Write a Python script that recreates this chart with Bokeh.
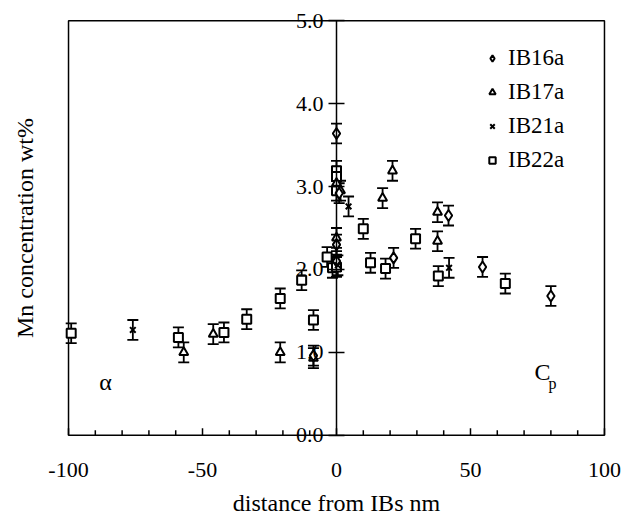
import math
from bokeh.plotting import figure
from bokeh.models import (ColumnDataSource, Whisker, TeeHead, FixedTicker,
                          Legend, LegendItem, Range1d, LinearAxis)
from bokeh.core.properties import value
from bokeh.embed import file_html
from bokeh.resources import INLINE

# ---------------- data ----------------
ib16a_x = [0, 1, 0, 0, 21.3, 41.8, 54.5, 80, -8.6]
ib16a_y = [3.64, 2.92, 2.30, 2.10, 2.14, 2.65, 2.03, 1.68, 0.96]

ib17a_x = [-57, -46, -21, -8.6, 0, 0, 1.5, 17.2, 20.9, 37.7, 37.7]
ib17a_y = [1.00, 1.22, 1.00, 0.93, 3.04, 2.38, 2.95, 2.86, 3.19, 2.69, 2.34]

ib21a_x = [-76, 4.5, 42, 0.5]
ib21a_y = [1.27, 2.76, 2.02, 2.05]

ib22a_x = [-99, -59, -42, -33.5, -21, -13, -8.6, -3.5, -1.5, 0, 0, 0, 0,
           10, 12.7, 18.3, 29.5, 38, 63]
ib22a_y = [1.23, 1.18, 1.24, 1.40, 1.65, 1.87, 1.39, 2.15, 2.02, 3.19, 3.12,
           2.95, 2.03, 2.49, 2.08, 2.01, 2.37, 1.92, 1.83]

err = 0.12  # error bar half-length, wt%

X_LO, X_HI = -100, 100
Y_LO, Y_HI = 0, 5
x_ticks = [-100, -50, 0, 50, 100]
x_tick_labels = ["-100", "-50", "0", "50", "100"]
x_minor = [v for v in range(-90, 100, 10) if v not in x_ticks]
y_ticks = [0, 1, 2, 3, 4, 5]
y_labels = ["0.0", "1.0", "2.0", "3.0", "4.0", "5.0"]

FONT = "Liberation Serif"
PADX, PADY = 1.5, 0.16  # small view padding so edge labels are not clipped

p = figure(width=622, height=518, output_backend="svg", toolbar_location=None,
           x_range=Range1d(X_LO - PADX, X_HI + PADX),
           y_range=Range1d(Y_LO - PADY, Y_HI + PADY),
           min_border_left=64, min_border_right=14, min_border_top=7,
           min_border_bottom=0)
p.grid.visible = False
p.outline_line_alpha = 0
p.background_fill_color = "white"

# frame box
p.quad(left=[X_LO], right=[X_HI], bottom=[Y_LO], top=[Y_HI], fill_alpha=0,
       line_color="black", line_width=1.5)

# x ticks along y = 0, pointing up (inside)
p.ray(x=x_ticks, y=[Y_LO] * len(x_ticks), length=7, length_units="screen",
      angle=math.pi / 2, line_color="black", line_width=1.5)
p.ray(x=x_minor, y=[Y_LO] * len(x_minor), length=5, length_units="screen",
      angle=math.pi / 2, line_color="black", line_width=1.5)

# bottom axis (labels only)
xa = p.xaxis[0]
xa.ticker = FixedTicker(ticks=x_ticks, minor_ticks=[])
xa.major_label_overrides = {t: s for t, s in zip(x_ticks, x_tick_labels)}
xa.major_tick_in = 0
xa.major_tick_out = 0
xa.axis_line_alpha = 0
xa.major_label_text_font = FONT
xa.major_label_text_font_size = "22px"
xa.major_label_text_color = "black"
xa.major_label_standoff = 14
xa.axis_label = "distance from IBs nm"
xa.axis_label_text_font = FONT
xa.axis_label_text_font_size = "24px"
xa.axis_label_text_font_style = "normal"
xa.axis_label_text_color = "black"
xa.axis_label_standoff = 10

# left axis: label only
ya = p.yaxis[0]
ya.ticker = FixedTicker(ticks=[])
ya.axis_line_alpha = 0
ya.axis_label = "Mn concentration wt%"
ya.axis_label_text_font = FONT
ya.axis_label_text_font_size = "24px"
ya.axis_label_text_font_style = "normal"
ya.axis_label_text_color = "black"
ya.axis_label_standoff = 27

# central y axis at x = 0
ca = LinearAxis(fixed_location=0, bounds=(Y_LO, Y_HI),
                ticker=FixedTicker(ticks=y_ticks, minor_ticks=[]),
                major_label_overrides={t: s for t, s in zip(y_ticks, y_labels)},
                major_tick_in=8, major_tick_out=8, major_tick_line_width=1.5,
                axis_line_width=1.5, major_label_standoff=5,
                major_label_text_font=FONT, major_label_text_font_size="22px",
                major_label_text_color="black")
p.add_layout(ca, "left")

series = [
    ("IB22a", ib22a_x, ib22a_y, "square", 9),
    ("IB17a", ib17a_x, ib17a_y, "triangle", 9),
    ("IB16a", ib16a_x, ib16a_y, "diamond", 11),
    ("IB21a", ib21a_x, ib21a_y, "x", 8),
]
rend = {}
for name, xs, ys, mk, sz in series:
    src = ColumnDataSource(dict(x=xs, y=ys,
                                lo=[v - err for v in ys], hi=[v + err for v in ys]))
    w = Whisker(source=src, base="x", upper="hi", lower="lo", dimension="height",
                line_color="black", line_width=1.8,
                upper_head=TeeHead(size=11, line_width=1.8, line_color="black"),
                lower_head=TeeHead(size=11, line_width=1.8, line_color="black"))
    p.add_layout(w)
    r = p.scatter("x", "y", source=src, marker=mk, size=sz, line_color="black",
                  line_width=2, fill_color="white")
    rend[name] = r

legend = Legend(items=[LegendItem(label=n, renderers=[rend[n]])
                       for n in ["IB16a", "IB17a", "IB21a", "IB22a"]],
                location=(420, 274), padding=0, margin=0, spacing=6,
                label_height=28, glyph_height=28, glyph_width=16, label_standoff=8,
                label_text_font=FONT, label_text_font_size="23px",
                label_text_color="black",
                border_line_alpha=0, background_fill_alpha=0)
p.add_layout(legend)

# phase labels
p.text(x=[-86.2], y=[0.64], text=["α"], text_align="center", text_baseline="middle",
       text_font=value(FONT), text_font_size="24px", text_color="black")
p.text(x=[76.9], y=[0.76], text=["C"], text_align="center", text_baseline="middle",
       text_font=value(FONT), text_font_size="24px", text_color="black")
p.text(x=[80.6], y=[0.63], text=["p"], text_align="center", text_baseline="middle",
       text_font=value(FONT), text_font_size="16px", text_color="black")

open("out.html", "w").write(file_html(p, INLINE))
